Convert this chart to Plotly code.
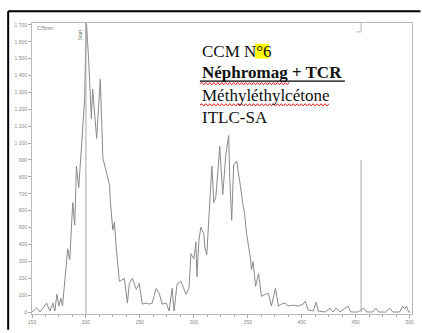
import plotly.graph_objects as go

# Radio-TLC scan (position vs counts)
position = [150, 154.3, 157.4, 163.5, 166.6, 169.3, 171.2, 173, 174.9, 176.7, 178.3, 179.5,
            182, 183.1, 185, 186.6, 187.8, 189.6, 191.2, 193.3, 196.7, 198.8, 200.3, 202.5,
            205, 206.2, 209.9, 213.3, 215.7, 218.1, 221.8, 222.7, 224.9, 226.4, 228, 231,
            235.6, 238.4, 240.2, 243, 246.7, 249.4, 252.2, 255.9, 258.7, 261.4, 265.1, 267.9,
            270.6, 274.3, 277.1, 279.8, 281.7, 284.4, 288.1, 292.7, 295.5, 297.3, 300.1, 301.9,
            302.9, 304.7, 306.5, 309.3, 310.2, 312, 316.7, 318.5, 320.3, 322.2, 324, 326.8,
            329.6, 332.3, 333.3, 335.1, 336.9, 339.7, 341.5, 343.4, 345.2, 347.1, 348.9, 349.4,
            352.6, 353.5, 354.9, 357.2, 360, 362.7, 366.4, 369.1, 371.9, 375.6, 378.4, 381.1,
            384.8, 387.6, 392.2, 396.8, 401.4, 403.2, 406.1, 410.7, 413.4, 415.2, 421.7, 426.2,
            429, 431.8, 435.4, 440, 442.8, 445.6, 452, 457.5, 460.3, 465.8, 468.6, 471.4,
            477.8, 481.5, 484.3, 490.7, 493.5, 495.3, 497.1, 499, 500.8]
counts = [0, 25, 0, 53, 6, 53, 6, 105, 35, 82, 35, 123,
          288, 374, 310, 485, 648, 514, 864, 736, 1069, 1261, 1730, 1495,
          1145, 1320, 1028, 1378, 911, 841, 753, 648, 485, 531, 385, 181,
          199, 53, 169, 199, 134, 169, 47, 53, 47, 53, 140, 111,
          47, 53, 6, 140, 6, 164, 181, 105, 140, 345, 315, 415,
          210, 426, 502, 461, 385, 339, 864, 648, 677, 823, 981, 695,
          929, 1045, 794, 543, 870, 894, 823, 736, 648, 578, 461, 444,
          310, 251, 298, 152, 228, 93, 105, 111, 35, 140, 35, 47,
          53, 35, 41, 35, 47, 64, 12, 6, 58, 6, 0, 23,
          0, 23, 0, 23, 35, 0, 0, 23, 0, 0, 23, 0,
          0, 23, 0, 0, 35, 18, 35, 0, 0]

y_ticks = [0, 100, 200, 300, 400, 500, 600, 700, 800, 900, 1000, 1100, 1200, 1300,
           1400, 1500, 1600, 1700]
y_tick_labels = ["0", "100", "200", "300", "400", "500", "600", "700", "800", "900",
                 "1 000", "1 100", "1 200", "1 300", "1 400", "1 500", "1 600", "1 700"]
x_ticks = [150, 200, 250, 300, 350, 400, 450, 500]
x_tick_labels = ["150", "200", "250", "300", "350", "400", "450", "500"]
start_pos = 200
front_pos = 455

W, H = 422, 333
L, R, T, B = 32, 7.5, 23, 15
pw, ph = W - L - R, H - T - B


def px(x):
    return (x - L) / pw


def py(y):
    return (H - B - y) / ph


fig = go.Figure()
fig.add_trace(go.Scatter(x=position, y=counts, mode="lines",
                         line=dict(color="#8a8a8a", width=1), hoverinfo="skip",
                         showlegend=False))

shapes = []
# Start / front markers
shapes.append(dict(type="line", xref="x", yref="paper", x0=start_pos, x1=start_pos,
                   y0=0, y1=1, line=dict(color="#a8a8a8", width=1)))
shapes.append(dict(type="line", xref="x", yref="y", x0=front_pos, x1=front_pos,
                   y0=0, y1=900, line=dict(color="#a8a8a8", width=1)))
shapes.append(dict(type="line", xref="x", yref="paper", x0=front_pos, x1=front_pos,
                   y0=1, y1=py(32), line=dict(color="#b0b0b0", width=1)))
shapes.append(dict(type="line", xref="x", yref="paper", x0=front_pos - 4, x1=front_pos,
                   y0=py(32), y1=py(32), line=dict(color="#b0b0b0", width=1)))
# outer black frame (top and left edges visible)
shapes.append(dict(type="line", xref="paper", yref="paper", x0=px(8), x1=px(423),
                   y0=py(11), y1=py(11), line=dict(color="black", width=2),
                   layer="above"))
shapes.append(dict(type="line", xref="paper", yref="paper", x0=px(8), x1=px(8),
                   y0=py(11), y1=py(334), line=dict(color="black", width=2),
                   layer="above"))
# yellow highlight behind "°6"
shapes.append(dict(type="rect", xref="paper", yref="paper", x0=px(256.5), x1=px(270.5),
                   y0=py(59), y1=py(44), fillcolor="#ffff00", line=dict(width=0),
                   layer="above"))
# black underline of bold line
shapes.append(dict(type="line", xref="paper", yref="paper", x0=px(201), x1=px(347),
                   y0=py(82), y1=py(82), line=dict(color="black", width=1.2),
                   layer="above"))


def wavy(x0, x1, y):
    d = "M %f %f" % (px(x0), py(y))
    x = x0
    up = True
    while x < x1:
        x += 2
        d += " L %f %f" % (px(x), py(y - 1.2 if up else y + 1.2))
        up = not up
    return dict(type="path", xref="paper", yref="paper", path=d,
                line=dict(color="#e02020", width=1), layer="above")


shapes.append(wavy(201, 290, 84.5))
shapes.append(wavy(201, 330, 106))

fig.update_layout(shapes=shapes)

serif = "Liberation Serif, Times New Roman, serif"
ann = [
    dict(text="CCM N°6", x=px(201), y=py(51.5)),
    dict(text="<b>Néphromag + TCR</b>", x=px(201), y=py(73.5)),
    dict(text="Méthyléthylcétone", x=px(201), y=py(96)),
    dict(text="ITLC-SA", x=px(201), y=py(118.5)),
]
for a in ann:
    fig.add_annotation(xref="paper", yref="paper", xanchor="left", yanchor="middle",
                       showarrow=False, font=dict(family=serif, size=17, color="#111"),
                       **a)

fig.add_annotation(text="Start", xref="x", yref="paper", x=start_pos, y=py(27),
                   xanchor="right", yanchor="top", textangle=-90, showarrow=False,
                   xshift=-1, font=dict(family="Arial", size=5, color="#777"))
fig.add_annotation(text="C/5mm", xref="paper", yref="paper", x=px(35), y=py(28),
                   xanchor="left", yanchor="middle", showarrow=False,
                   font=dict(family="Arial", size=5, color="#777"))

fig.update_xaxes(range=[150, 502.2], tickvals=x_ticks, ticktext=x_tick_labels,
                 ticks="outside", ticklen=3, tickcolor="#aaa",
                 minor=dict(dtick=12.5, tick0=150, ticks="outside", ticklen=2, tickcolor="#aaa"),
                 showline=True, linecolor="#b8b8b8", linewidth=1, mirror=True,
                 showgrid=False, zeroline=False,
                 tickfont=dict(family="Arial", size=5, color="#888"))
fig.update_yaxes(range=[-11.7, 1711], tickvals=y_ticks, ticktext=y_tick_labels,
                 ticks="outside", ticklen=3, tickcolor="#aaa",
                 showline=True, linecolor="#b8b8b8", linewidth=1, mirror=True,
                 showgrid=False, zeroline=False,
                 tickfont=dict(family="Arial", size=5, color="#888"))

fig.update_layout(width=W, height=H, margin=dict(l=L, r=R, t=T, b=B, pad=0),
                  paper_bgcolor="white", plot_bgcolor="white", showlegend=False)

fig.write_html("out.html", config={"displayModeBar": False, "staticPlot": True},
               post_script="document.body.style.margin='0px';"
                           "document.body.style.overflow='hidden';")
